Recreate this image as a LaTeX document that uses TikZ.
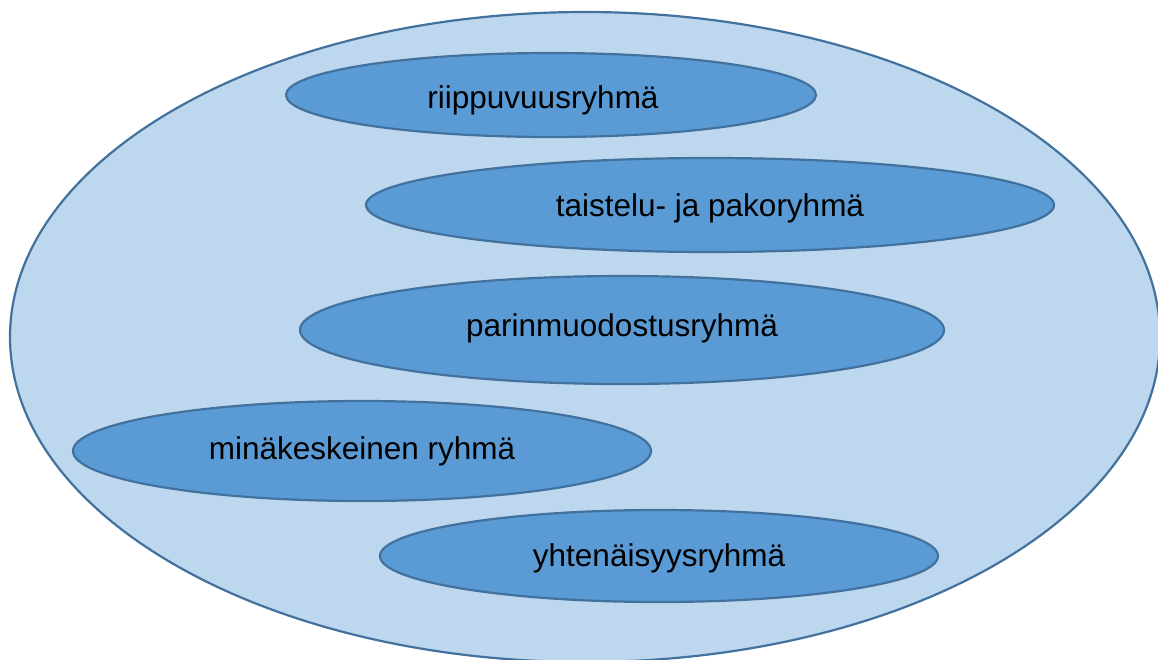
\documentclass[tikz,border=0pt]{standalone}
\usepackage{fontspec}
\setmainfont{Liberation Sans}
\usetikzlibrary{shapes.geometric}
\definecolor{outerfill}{HTML}{BDD7EE}
\definecolor{innerfill}{HTML}{5B9BD5}
\definecolor{edge}{HTML}{41719C}
\tikzset{
  grp/.style={ellipse, draw=edge, fill=innerfill, line width=2.2pt, inner sep=0pt},
  lbl/.style={font=\fontsize{31.5}{38}\selectfont, text=black, inner sep=0pt}
}
\begin{document}
\begin{tikzpicture}[x=1pt,y=-1pt]
\useasboundingbox (0,0) rectangle (1158,659);
\begin{scope}
\clip (0,0) rectangle (1158,659);
\node[ellipse, draw=edge, fill=outerfill, line width=2.2pt, minimum width=1150pt, minimum height=650pt, inner sep=0pt] (outer) at (585,337) {};
\end{scope}
\node[grp, minimum width=530pt, minimum height=84pt] (g1) at (551,95) {};
\node[grp, minimum width=688pt, minimum height=94pt] (g2) at (710,205) {};
\node[grp, minimum width=644pt, minimum height=108pt] (g3) at (622,330) {};
\node[grp, minimum width=578pt, minimum height=100pt] (g4) at (362,451) {};
\node[grp, minimum width=558pt, minimum height=92pt] (g5) at (659,556) {};
\node[lbl] (t1) at (543,100) {riippuvuusryhmä};
\node[lbl] (t2) at (710,208) {taistelu- ja pakoryhmä};
\node[lbl] (t3) at (622,328) {parinmuodostusryhmä};
\node[lbl] (t4) at (362,451) {minäkeskeinen ryhmä};
\node[lbl] (t5) at (659,558) {yhtenäisyysryhmä};
\end{tikzpicture}
\end{document}
